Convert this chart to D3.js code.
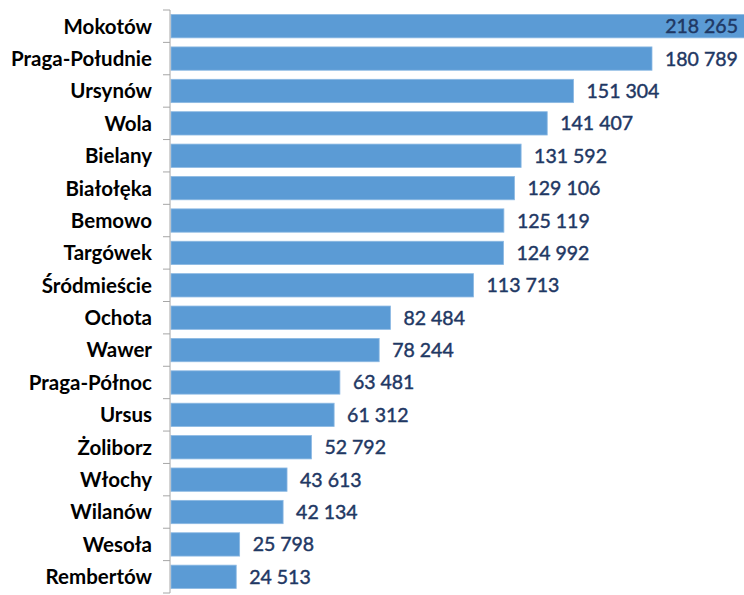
<!DOCTYPE html>
<html>
<head>
<meta charset="utf-8">
<script src="https://cdn.jsdelivr.net/npm/d3@7"></script>
<style>
  html, body { margin: 0; padding: 0; background: #fff; }
  svg { display: block; }
</style>
</head>
<body>
<svg id="chart" width="744" height="595"></svg>
<script>
// Population of Warsaw districts
const districts = ["Mokotów", "Praga-Południe", "Ursynów", "Wola", "Bielany", "Białołęka",
  "Bemowo", "Targówek", "Śródmieście", "Ochota", "Wawer", "Praga-Północ", "Ursus",
  "Żoliborz", "Włochy", "Wilanów", "Wesoła", "Rembertów"];
const population = [218265, 180789, 151304, 141407, 131592, 129106, 125119, 124992,
  113713, 82484, 78244, 63481, 61312, 52792, 43613, 42134, 25798, 24513];

const rows = districts.map((d, i) => ({ name: d, value: population[i] }));

const svg = d3.select("#chart");
const axisX = 170, plotTop = 10, plotBottom = 593;

const x = d3.scaleLinear().domain([0, 180789]).range([axisX + 1, 652]);
const y = d3.scaleBand().domain(districts).range([plotTop, plotBottom]).paddingInner(0.28).paddingOuter(0.14);

const fmt = v => d3.format(",")(v).replace(/,/g, " ");

// Bars
svg.append("g").selectAll("rect").data(rows).join("rect")
  .attr("x", x(0))
  .attr("y", d => y(d.name))
  .attr("width", d => x(d.value) - x(0))
  .attr("height", y.bandwidth())
  .attr("fill", "#5b9bd5")
  .attr("stroke", "#8cb9e3")
  .attr("stroke-width", 0.8);

// Category axis with ticks between bands
const axisG = svg.append("g").attr("transform", `translate(${axisX},0)`);
axisG.append("line").attr("x1", 0).attr("x2", 0).attr("y1", plotTop).attr("y2", plotBottom)
  .attr("stroke", "#a6a6a6").attr("stroke-width", 1);
const bounds = d3.range(districts.length + 1).map(i => plotTop + i * y.step());
axisG.selectAll("line.tick").data(bounds).join("line").attr("class", "tick")
  .attr("x1", -7).attr("x2", 0).attr("y1", d => d).attr("y2", d => d)
  .attr("stroke", "#a6a6a6").attr("stroke-width", 1);

// Category labels
svg.append("g").selectAll("text").data(rows).join("text")
  .attr("x", 152)
  .attr("y", d => y(d.name) + y.bandwidth() / 2)
  .attr("dy", "0.36em")
  .attr("text-anchor", "end")
  .attr("font-family", "Lato, sans-serif")
  .attr("font-weight", "bold")
  .attr("font-size", 20.5)
  .attr("fill", "#000")
  .text(d => d.name);

// Value labels
svg.append("g").selectAll("text").data(rows).join("text")
  .attr("x", d => x(d.value) > 700 ? 738 : x(d.value) + 13)
  .attr("y", d => y(d.name) + y.bandwidth() / 2)
  .attr("dy", "0.36em")
  .attr("text-anchor", d => x(d.value) > 700 ? "end" : "start")
  .attr("font-family", "Lato, sans-serif")
  .attr("font-size", 19.5)
  .attr("fill", "#1f3864")
  .attr("stroke", "#1f3864")
  .attr("stroke-width", 0.45)
  .text(d => fmt(d.value));
</script>
</body>
</html>
